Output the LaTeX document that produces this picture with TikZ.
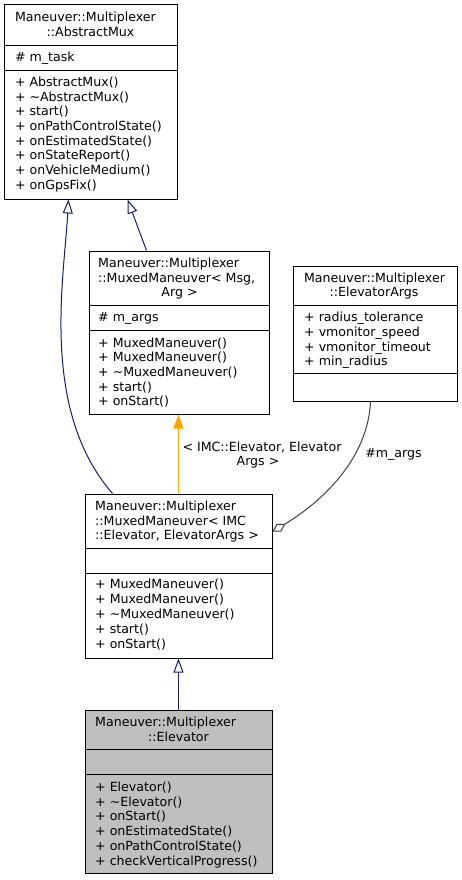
\documentclass[tikz,border=0pt]{standalone}
\usepackage{fontspec}
\setmainfont{DejaVu Sans}
\usetikzlibrary{arrows.meta,calc}
\definecolor{navyc}{HTML}{191970}
\definecolor{orangec}{HTML}{FFA500}
\definecolor{aggc}{HTML}{404040}
\definecolor{hilite}{HTML}{BFBFBF}
\begin{document}
\begin{tikzpicture}[x=1pt,y=-1pt,
  umlbox/.style={draw=black, line width=1pt, inner sep=0pt, fill=white},
  sepline/.style={draw=black, line width=1pt},
  txt/.style={inner sep=0pt, font=\fontsize{12.6}{14}\selectfont},
  inh/.style={draw=navyc, line width=1pt, -{Triangle[open, length=14pt, width=10pt]}},
  tmpl/.style={draw=orangec, line width=1pt, -{Triangle[length=14pt, width=10pt, fill=orangec]}},
  agg/.style={draw=aggc, line width=1pt, -{Diamond[open, length=15pt, width=9pt]}}]
\useasboundingbox (0,0) rectangle (461,880);

% ---------- Box 1: AbstractMux
\node[umlbox, minimum width=173pt, minimum height=194pt] (b1) at (90.5,102) {};
\draw[sepline] ($(b1.north west)+(0,41)$) -- ($(b1.north east)+(0,41)$);
\draw[sepline] ($(b1.north west)+(0,66)$) -- ($(b1.north east)+(0,66)$);
\node[txt, anchor=base west] (b1t1) at (14.8,21.5) {Maneuver::Multiplexer};
\node[txt, anchor=base] (b1t2) at (90.5,36.5) {::AbstractMux};
\node[txt, anchor=base west] (b1a0) at (14.8,61.7) {\# m\_task};
\foreach \s [count=\i from 0] in {{+ AbstractMux()},{+ \textasciitilde AbstractMux()},{+ start()},{+ onPathControlState()},{+ onEstimatedState()},{+ onStateReport()},{+ onVehicleMedium()},{+ onGpsFix()}}
  \node[txt, anchor=base west] (b1m\i) at (14.8,86.6+14.65*\i) {\s};

% ---------- Box 2: MuxedManeuver< Msg, Arg >
\node[umlbox, minimum width=180pt, minimum height=163pt] (b2) at (179,332.5) {};
\draw[sepline] ($(b2.north west)+(0,55)$) -- ($(b2.north east)+(0,55)$);
\draw[sepline] ($(b2.north west)+(0,80)$) -- ($(b2.north east)+(0,80)$);
\node[txt, anchor=base west] (b2t1) at (98,267.3) {Maneuver::Multiplexer};
\node[txt, anchor=base west] (b2t2) at (98,282.3) {::MuxedManeuver< Msg,};
\node[txt, anchor=base] (b2t3) at (179.5,296.8) {Arg >};
\node[txt, anchor=base west] (b2a0) at (98,321.8) {\# m\_args};
\foreach \s [count=\i from 0] in {{+ MuxedManeuver()},{+ MuxedManeuver()},{+ \textasciitilde MuxedManeuver()},{+ start()},{+ onStart()}}
  \node[txt, anchor=base west] (b2m\i) at (98,347.3+14.6*\i) {\s};

% ---------- Box 3: ElevatorArgs
\node[umlbox, minimum width=164pt, minimum height=135pt] (b3) at (375,333.5) {};
\draw[sepline] ($(b3.north west)+(0,40)$) -- ($(b3.north east)+(0,40)$);
\draw[sepline] ($(b3.north west)+(0,108)$) -- ($(b3.north east)+(0,108)$);
\node[txt, anchor=base] (b3t1) at (374.5,282.3) {Maneuver::Multiplexer};
\node[txt, anchor=base] (b3t2) at (374,296.8) {::ElevatorArgs};
\foreach \s [count=\i from 0] in {{+ radius\_tolerance},{+ vmonitor\_speed},{+ vmonitor\_timeout},{+ min\_radius}}
  \node[txt, anchor=base west] (b3a\i) at (304,321.8+14.7*\i) {\s};

% ---------- Box 4: MuxedManeuver< IMC::Elevator, ElevatorArgs >
\node[umlbox, minimum width=187pt, minimum height=164pt] (b4) at (178.5,576) {};
\draw[sepline] ($(b4.north west)+(0,55)$) -- ($(b4.north east)+(0,55)$);
\draw[sepline] ($(b4.north west)+(0,80)$) -- ($(b4.north east)+(0,80)$);
\node[txt, anchor=base west] (b4t1) at (95,510.5) {Maneuver::Multiplexer};
\node[txt, anchor=base west] (b4t2) at (95,525.2) {::MuxedManeuver< IMC};
\node[txt, anchor=base west] (b4t3) at (95,539.5) {::Elevator, ElevatorArgs >};
\foreach \s [count=\i from 0] in {{+ MuxedManeuver()},{+ MuxedManeuver()},{+ \textasciitilde MuxedManeuver()},{+ start()},{+ onStart()}}
  \node[txt, anchor=base west] (b4m\i) at (95,588.5+14.9*\i) {\s};

% ---------- Box 5: Elevator
\node[umlbox, fill=hilite, minimum width=187pt, minimum height=163pt] (b5) at (178.5,791.5) {};
\draw[sepline] ($(b5.north west)+(0,40)$) -- ($(b5.north east)+(0,40)$);
\draw[sepline] ($(b5.north west)+(0,65)$) -- ($(b5.north east)+(0,65)$);
\node[txt, anchor=base west] (b5t1) at (95,726.2) {Maneuver::Multiplexer};
\node[txt, anchor=base] (b5t2) at (178.5,741.2) {::Elevator};
\foreach \s [count=\i from 0] in {{+ Elevator()},{+ \textasciitilde Elevator()},{+ onStart()},{+ onEstimatedState()},{+ onPathControlState()},{+ checkVerticalProgress()}}
  \node[txt, anchor=base west] (b5m\i) at (95,791.2+14.8*\i) {\s};

% ---------- Connectors
\draw[inh] ($(b4.north west)+(28,0)$) .. controls (40,410) and (64,280) .. ($(b1.south west)+(65,0)$);
\draw[inh] ($(b2.north west)+(58,0)$) -- ($(b1.south west)+(124,0)$);
\draw[tmpl] (b4.north) -- (b2.south -| b4.north);
\draw[inh] (b5.north) -- (b4.south);
\draw[agg] ($(b3.south west)+(78,0)$) .. controls (368,460) and (320,503) .. ($(b4.north east)+(0,38)$);

% ---------- Edge labels
\node[txt, anchor=base] (l1) at (262,451.5) {< IMC::Elevator, Elevator};
\node[txt, anchor=base] (l2) at (258,465.5) {Args >};
\node[txt, anchor=base] (l3) at (393.5,457.8) {\#m\_args};
\end{tikzpicture}
\end{document}
